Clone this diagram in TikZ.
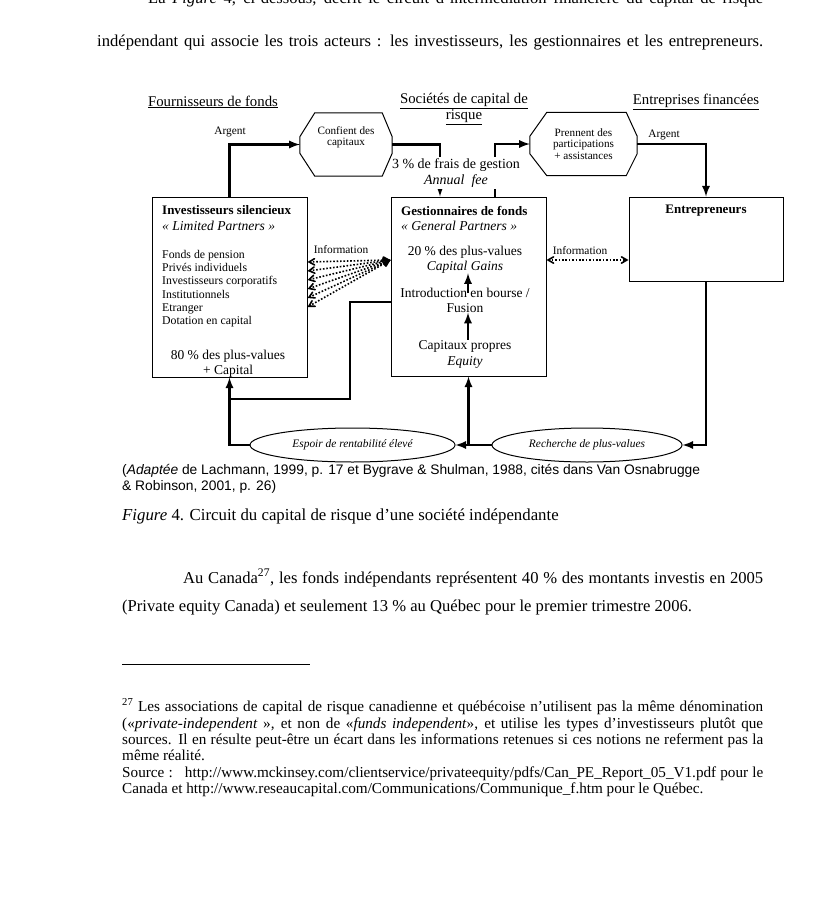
\documentclass[tikz,border=0pt]{standalone}
\usepackage{fontspec}
\setmainfont{Liberation Serif}
\newfontfamily\captionfont{Liberation Sans}
\usetikzlibrary{arrows,shapes.geometric}

\begin{document}
\begin{tikzpicture}[x=1pt,y=-1pt]
\tikzstyle{bodytext} = [anchor=base west, inner sep=0pt, font=\fontsize{16.6}{19}\selectfont]
\tikzstyle{notetext} = [anchor=base west, inner sep=0pt, font=\fontsize{15.2}{16}\selectfont]
\tikzstyle{sourcetext} = [anchor=base west, inner sep=0pt, font=\captionfont\fontsize{13.8}{16}\selectfont]
\tikzstyle{heading} = [inner sep=0pt, align=center, font=\fontsize{14.8}{14}\selectfont]
\tikzstyle{actor} = [rectangle, draw, line width=1pt, minimum width=155pt]
\tikzstyle{title} = [anchor=west, inner sep=0pt, font=\bfseries\fontsize{13}{15}\selectfont]
\tikzstyle{role} = [anchor=west, inner sep=0pt, font=\itshape\fontsize{13.6}{15}\selectfont]
\tikzstyle{member} = [anchor=north west, inner sep=0pt, align=left, font=\fontsize{11.8}{13.3}\selectfont]
\tikzstyle{gain} = [inner sep=0pt, font=\fontsize{13.5}{15}\selectfont]
\tikzstyle{gainit} = [gain, font=\itshape\fontsize{13.5}{15}\selectfont]
\tikzstyle{deal} = [rectangle, minimum height=63pt, inner sep=0pt, align=center,
font=\fontsize{11.2}{11.5}\selectfont]
\tikzstyle{rim} = [draw, line width=1pt]
\tikzstyle{hope} = [ellipse, draw, line width=1pt, minimum height=34pt, inner sep=0pt,
font=\itshape\fontsize{11.4}{12}\selectfont]
\tikzstyle{small} = [inner sep=0pt, font=\fontsize{11.4}{12}\selectfont]
\tikzstyle{line} = [draw, line width=2.6pt, ->, >=latex];
\tikzstyle{info} = [draw, line width=1.6pt, dash pattern=on 1.6pt off 1.8pt, <->, >=angle 60];

\fill[white] (0,0) rectangle (818,902);
\useasboundingbox (0,0) rectangle (818,902);

% text above the figure
\node[bodytext] (intro1) at (148,4) {\makebox[615pt][s]{La \textit{Figure} 4, ci-dessous, décrit le circuit d’intermédiation financière du capital de risque}};
\node[bodytext] (intro2) at (97,46) {\makebox[666pt][s]{indépendant qui associe les trois acteurs : les investisseurs, les gestionnaires et les entrepreneurs.}};

% headings
\node[heading] (fournisseurs) at (213,102) {\underline{Fournisseurs de fonds}};
\node[heading] (societes) at (464,109) {\underline{Sociétés de capital de}\\\underline{risque}};
\node[heading] (entreprises) at (696,102) {\underline{Entreprises financées}};

% actors
\node[actor, minimum height=180pt] (inv) at (229.5,287) {};
\node[actor, minimum height=179pt] (gest) at (468.5,286.5) {};
\node[actor, minimum width=154pt, minimum height=84pt] (ent) at (706,239) {};

% octagons
\node[deal, minimum width=92pt] (confient) at (346,144.5) {Confient des\\capitaux\\[5pt]};
\node[deal, minimum width=107pt] (prennent) at (583.5,144) {Prennent des\\participations\\+ assistances};
\path[rim] ([xshift=15pt]confient.north west) -- ([xshift=-10pt]confient.north east)
  -- ([yshift=-24pt]confient.north east) -- ([yshift=23pt]confient.south east)
  -- ([xshift=-10pt]confient.south east) -- ([xshift=15pt]confient.south west)
  -- ([yshift=23pt]confient.south west) -- ([yshift=-24pt]confient.north west) -- cycle;
\path[rim] ([xshift=17pt]prennent.north west) -- ([xshift=-11pt]prennent.north east)
  -- ([yshift=-24pt]prennent.north east) -- ([yshift=22pt]prennent.south east)
  -- ([xshift=-11pt]prennent.south east) -- ([xshift=17pt]prennent.south west)
  -- ([yshift=22pt]prennent.south west) -- ([yshift=-24pt]prennent.north west) -- cycle;

\node[hope, minimum width=205pt] (espoir) at (352.5,445) {Espoir de rentabilité élevé};
\node[hope, minimum width=190pt] (recherche) at (587,445) {Recherche de plus-values};

% investisseurs
\node[title] (invtitle) at (162,210) {Investisseurs silencieux};
\node[role] (limited) at (162,226) {« Limited Partners »};
\node[member] (members) at (162,250) {Fonds de pension\\Privés individuels\\Investisseurs corporatifs\\Institutionnels\\Etranger\\Dotation en capital};
\node[gain] (eighty) at (228,356) {80 \% des plus-values};
\node[gain] (pluscap) at (228,371) {+ Capital};

% gestionnaires
\node[title] (gesttitle) at (401,211) {Gestionnaires de fonds};
\node[role] (general) at (401,226) {« General Partners »};
\node[gain] (twenty) at (465,252) {20 \% des plus-values};
\node[gainit] (gains) at (465,267) {Capital Gains};
\node[gain] (bourse) at (465,293) {Introduction en bourse /};
\node[gain] (fusion) at (465,308) {Fusion};
\node[gain] (capitaux) at (465,346) {Capitaux propres};
\node[gainit] (equity) at (465,362) {Equity};

% entrepreneurs
\node[title, anchor=center] (enttitle) at (706,211) {Entrepreneurs};

\node[small] (argentleft) at (230,132) {Argent};
\node[small] (argentright) at (664,135) {Argent};
\node[small] (infoleft) at (341,250) {Information};
\node[small] (inforight) at (580,251) {Information};

\path[line] ([xshift=3pt]bourse.center) -- ([xshift=3pt]gains.south);
\path[line] ([xshift=3pt]capitaux.north) -- ([xshift=3pt]fusion.south);

\path[line] (inv.north) |- (confient.west);
\path[line] (confient.east) -| ([xshift=-28.5pt]gest.north);
\path[line] ([xshift=26.5pt]gest.north) |- (prennent.west);
\path[line] (prennent.east) -| (ent.north);
\path[line] (ent.south) |- (recherche.east);
\path[line] (recherche.west) -| (gest.south);
\path[line] (recherche.west) -- (espoir.east);
\path[line] (espoir.west) -| (inv.south);
\coordinate (turn) at (350,399);
\path[line, -] ([yshift=-15.5pt]gest.west) -| (turn) -- (inv.south |- turn);

\path[info] ([yshift=26.5pt]gest.east) -- ([yshift=26.5pt]gest.east -| ent.west);
\path[info] ([yshift=25pt]inv.east) -- ([yshift=26.5pt]gest.west);
\path[info] ([yshift=16pt]inv.east) -- ([yshift=26.5pt]gest.west);
\path[info] ([yshift=7pt]inv.east) -- ([yshift=26.5pt]gest.west);
\path[info] ([yshift=-2pt]inv.east) -- ([yshift=26.5pt]gest.west);
\path[info] ([yshift=-11pt]inv.east) -- ([yshift=26.5pt]gest.west);
\path[info] ([yshift=-20pt]inv.east) -- ([yshift=26.5pt]gest.west);

\node[fill=white, inner sep=1pt, align=center, font=\fontsize{14}{16.5}\selectfont] (fee) at (456,173) {3 \% de frais de gestion\\\textit{Annual\ \ fee}};

% text below the figure
\node[sourcetext] (source1) at (122,474) {(\textit{Adaptée} de Lachmann, 1999, p. 17 et Bygrave \& Shulman, 1988, cités dans Van Osnabrugge};
\node[sourcetext] (source2) at (122,490) {\& Robinson, 2001, p. 26)};
\node[bodytext, font=\fontsize{16.8}{19}\selectfont] (figcaption) at (122,520) {\textit{Figure} 4. Circuit du capital de risque d’une société indépendante};
\node[bodytext] (canada1) at (183,583) {\makebox[580pt][s]{Au Canada\textsuperscript{27}, les fonds indépendants représentent 40 \% des montants investis en 2005}};
\node[bodytext] (canada2) at (122,611) {(Private equity Canada) et seulement 13 \% au Québec pour le premier trimestre 2006.};

\coordinate (ruleleft) at (122,664);
\coordinate (ruleright) at (310,664);
\draw[line width=0.8pt] (ruleleft) -- (ruleright);

\node[notetext] (note1) at (122,711) {\makebox[641pt][s]{\textsuperscript{27} Les associations de capital de risque canadienne et québécoise n’utilisent pas la même dénomination}};
\node[notetext] (note2) at (122,728) {\makebox[641pt][s]{(«\textit{private-independent} », et non de «\textit{funds independent}», et utilise les types d’investisseurs plutôt que}};
\node[notetext] (note3) at (122,744) {\makebox[641pt][s]{sources. Il en résulte peut-être un écart dans les informations retenues si ces notions ne referment pas la}};
\node[notetext] (note4) at (122,760) {même réalité.};
\node[notetext] (note5) at (122,777) {\makebox[641pt][s]{Source :\ \ \ http://www.mckinsey.com/clientservice/privateequity/pdfs/Can\_PE\_Report\_05\_V1.pdf pour le}};
\node[notetext] (note6) at (122,793) {Canada et http://www.reseaucapital.com/Communications/Communique\_f.htm pour le Québec.};
\end{tikzpicture}
\end{document}
